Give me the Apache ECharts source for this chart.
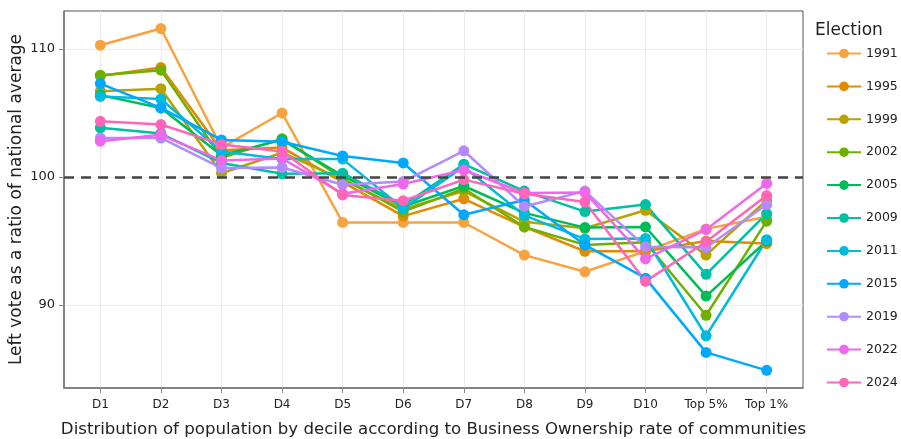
<!DOCTYPE html>
<html>
<head>
<meta charset="utf-8">
<script src="https://cdn.jsdelivr.net/npm/echarts@6/dist/echarts.min.js"></script>
<style>
  html, body { margin: 0; padding: 0; background: #fff; }
  #main { width: 901px; height: 439px; }
</style>
</head>
<body>
<div id="main"></div>
<script>
// categories along the x axis
const categories = ['D1', 'D2', 'D3', 'D4', 'D5', 'D6', 'D7', 'D8', 'D9', 'D10', 'Top 5%', 'Top 1%'];

// election years (legend order) and their colours
const elections = ['1991', '1995', '1999', '2002', '2005', '2009', '2011', '2015', '2019', '2022', '2024'];
const colors = ['#F7A440', '#E08B00', '#B8A200', '#6DB000', '#00BC56', '#00C0A3',
                '#00BBDA', '#00A8FF', '#B38BFF', '#EF67EB', '#FF66B9'];

// left vote as ratio of national average, one array per election
const v1991 = [110.3, 111.6, 102.3, 105.0, 96.45, 96.45, 96.45, 93.9, 92.6, 94.2, 95.95, 96.9];
const v1995 = [107.9, 108.55, 102.1, 102.3, 99.6, 96.95, 98.3, 96.1, 94.2, 94.2, 95.0, 94.8];
const v1999 = [106.7, 106.9, 100.3, 101.9, 99.8, 97.5, 98.9, 96.5, 96.0, 97.4, 93.9, 98.2];
const v2002 = [107.95, 108.35, 101.5, 103.0, 99.9, 97.3, 99.1, 96.1, 94.7, 94.9, 89.2, 96.55];
const v2005 = [106.4, 105.4, 101.7, 102.9, 100.1, 97.7, 99.3, 97.2, 96.05, 96.1, 90.7, 95.0];
const v2009 = [103.85, 103.4, 101.1, 100.25, 100.3, 97.8, 101.0, 98.9, 97.3, 97.85, 92.4, 97.15];
const v2011 = [106.3, 106.1, 102.0, 101.4, 101.4, 97.55, 100.8, 97.0, 95.15, 95.2, 87.6, 95.1];
const v2015 = [107.3, 105.4, 102.9, 102.75, 101.65, 101.1, 97.05, 98.2, 94.7, 92.1, 86.3, 84.9];
const v2019 = [103.05, 103.05, 100.7, 100.75, 99.4, 99.65, 102.05, 97.7, 98.9, 94.55, 94.5, 97.85];
const v2022 = [102.8, 103.3, 101.3, 101.45, 98.7, 99.45, 100.55, 98.75, 98.8, 93.6, 95.9, 99.5];
const v2024 = [104.35, 104.1, 102.55, 102.0, 98.6, 98.15, 99.8, 98.7, 98.05, 91.85, 94.95, 98.55];

const values = [v1991, v1995, v1999, v2002, v2005, v2009, v2011, v2015, v2019, v2022, v2024];

// y tick labels
const yTicks = [90, 100, 110];
const xTicks = categories.map((c, i) => i);

const font = 'DejaVu Sans';

let series = elections.map((year, i) => ({
    name: year,
    type: 'line',
    data: values[i].map((v, j) => [j, v]),
    symbol: 'circle',
    symbolSize: 11,
    lineStyle: { width: 2.5, color: colors[i] },
    itemStyle: { color: colors[i] },
    emphasis: { disabled: true },
    z: 3
}));

// dashed reference line at 100
series.push({
    name: 'ref',
    type: 'line',
    data: [],
    markLine: {
        silent: true,
        symbol: 'none',
        label: { show: false },
        lineStyle: { color: '#444', width: 2.5, type: [10, 7] },
        data: [{ yAxis: 100 }]
    },
    z: 2
});

const option = {
    animation: false,
    textStyle: { fontFamily: font },
    title: {
        text: 'Election',
        left: 810,
        top: 17,
        textStyle: { fontFamily: font, fontSize: 17, fontWeight: 'normal', color: '#222' }
    },
    legend: {
        data: elections,
        orient: 'vertical',
        left: 821,
        top: 42,
        itemWidth: 34,
        itemHeight: 12,
        itemGap: 19.9,
        textStyle: { fontFamily: font, fontSize: 12.5, color: '#222' }
    },
    grid: {
        left: 64, right: 98, top: 11, bottom: 51,
        outerBoundsMode: 'none',
        containLabel: false,
        show: true, borderColor: '#555', borderWidth: 1
    },
    xAxis: {
        type: 'value',
        min: -0.6,
        max: 11.6,
        name: 'Distribution of population by decile according to Business Ownership rate of communities',
        nameLocation: 'middle',
        nameGap: 33,
        nameMoveOverlap: false,
        nameTextStyle: { fontFamily: font, fontSize: 16.6, color: '#222' },
        axisLine: { onZero: false, lineStyle: { color: '#777', width: 1.5 } },
        axisTick: { customValues: xTicks, length: 5, lineStyle: { color: '#888' } },
        axisLabel: {
            customValues: xTicks,
            formatter: v => categories[Math.round(v)],
            fontSize: 12, color: '#222', margin: 11
        },
        splitLine: { show: true, lineStyle: { color: '#ececec' } }
    },
    yAxis: {
        type: 'value',
        min: 83.52,
        max: 112.97,
        name: 'Left vote as a ratio of national average',
        nameLocation: 'middle',
        nameGap: 39,
        nameMoveOverlap: false,
        nameTextStyle: { fontFamily: font, fontSize: 17, color: '#222' },
        axisLine: { show: true, onZero: false, lineStyle: { color: '#777', width: 1.5 } },
        axisTick: { show: true, customValues: yTicks, length: 5, lineStyle: { color: '#888' } },
        axisLabel: { customValues: yTicks, fontSize: 13, color: '#222', margin: 9 },
        splitLine: { show: true, lineStyle: { color: '#ececec' } }
    },
    series: series
};

let plot = echarts.init(document.querySelector('#main'));
plot.setOption(option);
</script>
</body>
</html>
